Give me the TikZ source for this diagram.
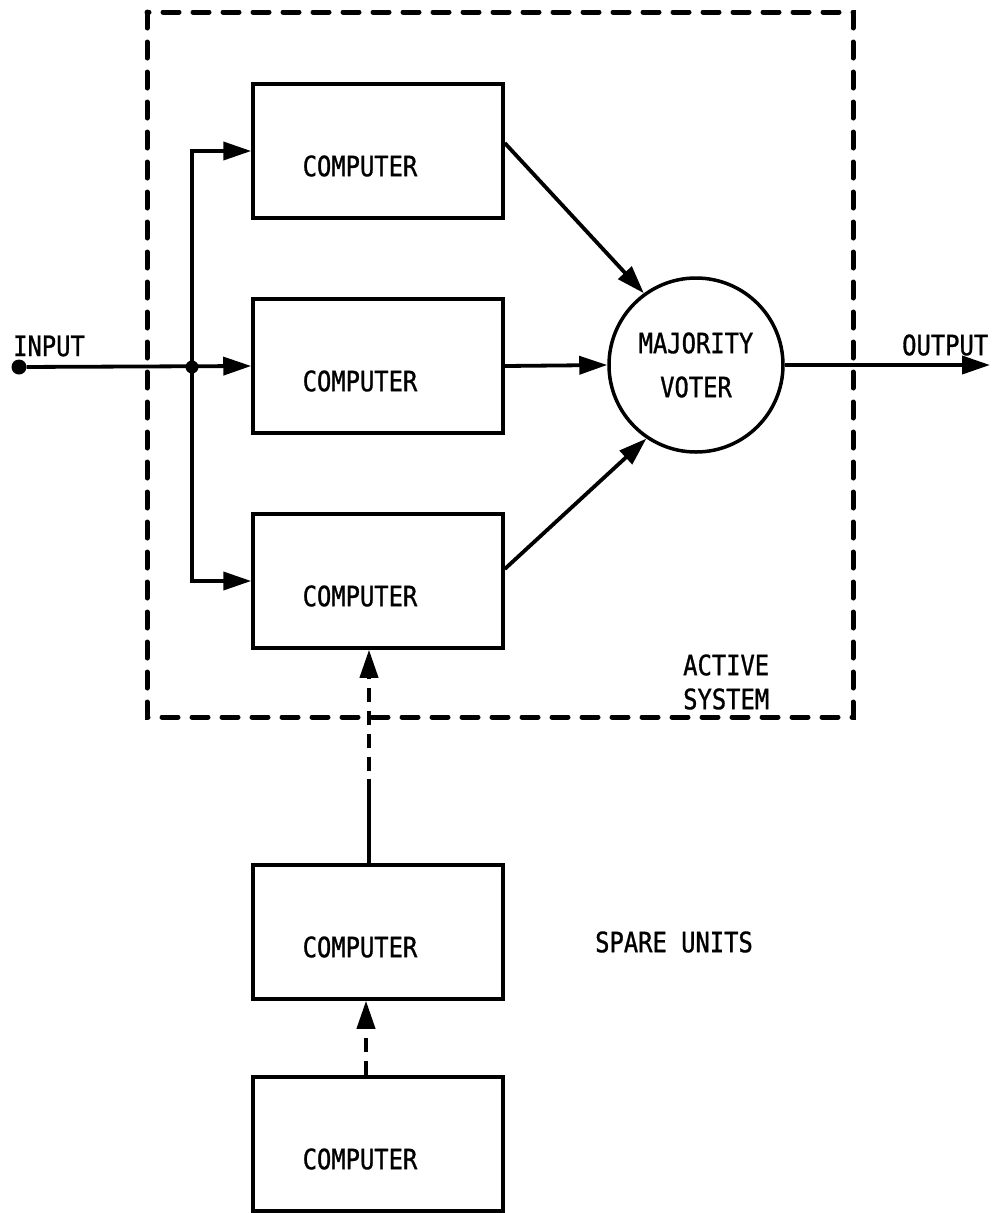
\documentclass[tikz,border=0pt]{standalone}
\usepackage{fontspec}
\newfontfamily\tfont[FakeStretch=0.85,FakeBold=1]{DejaVu Sans Mono}
\usetikzlibrary{arrows.meta}
\begin{document}
\begin{tikzpicture}[x=1pt,y=-1pt,
  lbl/.style={font=\tfont\fontsize{28}{34}\selectfont, inner sep=0pt},
  box/.style={draw, line width=3.5pt, minimum width=250pt, minimum height=134pt, inner sep=0pt},
  voter/.style={draw, circle, line width=3.5pt, minimum size=174pt, inner sep=0pt, align=center,
    font=\tfont\fontsize{28}{44}\selectfont},
  dot/.style={circle, fill, inner sep=0pt, minimum size=15pt},
  arr/.style={line width=3.8pt, -{Triangle[length=28pt,width=18pt]}},
  dasharr/.style={arr, dash pattern=on 14pt off 9pt},
  dashbox/.style={line width=5pt, line cap=round, dash pattern=on 16pt off 14pt},
  solid line/.style={line width=3.8pt}
]
\useasboundingbox (0,0) rectangle (991,1213);
\fill[white] (0,0) rectangle (991,1213);

% active system frame
\draw[dashbox] (147,12) rectangle (853,717);

% computers
\node[box, label={[lbl,xshift=-18pt,yshift=-15pt]center:COMPUTER}] (c1) at (378,151) {};
\node[box, label={[lbl,xshift=-18pt,yshift=-15pt]center:COMPUTER}] (c2) at (378,366) {};
\node[box, label={[lbl,xshift=-18pt,yshift=-15pt]center:COMPUTER}] (c3) at (378,581) {};
\node[box, label={[lbl,xshift=-18pt,yshift=-15pt]center:COMPUTER}] (c4) at (378,932) {};
\node[box, label={[lbl,xshift=-18pt,yshift=-15pt]center:COMPUTER}] (c5) at (378,1144) {};

% voter
\node[voter] (v) at (696,365) {MAJORITY\\VOTER};

% input / output
\node[dot] (in) at (19,367) {};
\node[dot, minimum size=13pt] (b) at (192,367) {};
\coordinate (out) at (990,365);
\node[lbl, anchor=west] (inl) at (13,346) {INPUT};
\node[lbl, anchor=west] (outl) at (902,345) {OUTPUT};

\draw[arr] (in) -- (c2.west);
\draw[arr] (b.center) |- (c1.west);
\draw[arr] (b.center) |- (c3.west);

\draw[arr] ([yshift=8pt]c1.east) -- (v.126);
\draw[arr] (c2.east) -- (v.west);
\draw[arr] ([yshift=12pt]c3.east) -- (v.236);
\draw[arr] (v.east) -- (out);

% spare units chain
\draw[dasharr] ([xshift=-9pt]c4.north) -- ([xshift=-9pt]c3.south);
\draw[solid line] ([xshift=-9pt]c4.north) -- ++(0,-84);
\draw[dasharr] ([xshift=-12pt]c5.north) -- ([xshift=-12pt]c4.south);

% labels
\node[lbl, anchor=west, align=left] (act) at (683,682) {ACTIVE\\SYSTEM};
\node[lbl, anchor=west] (spare) at (595,942) {SPARE UNITS};
\end{tikzpicture}
\end{document}
